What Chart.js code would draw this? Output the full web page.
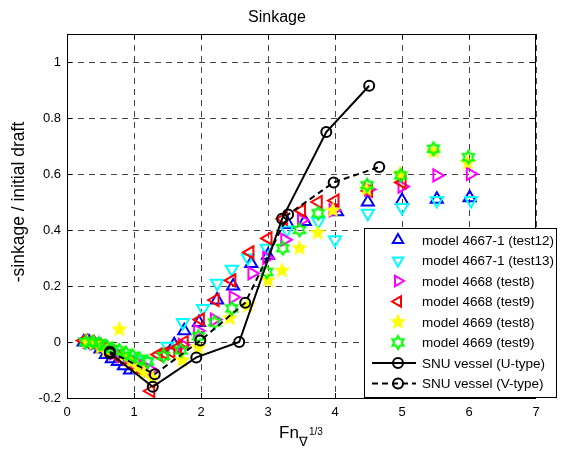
<!DOCTYPE html>
<html><head><meta charset="utf-8">
<script src="https://cdn.jsdelivr.net/npm/chart.js@4.4.0/dist/chart.umd.min.js"></script>
<style>html,body{margin:0;padding:0;background:#fff}</style>
</head><body>
<canvas id="c" width="565" height="450" style="display:block;width:565px;height:450px"></canvas>
<script>
// ---- data ----
const xTicks = [0, 1, 2, 3, 4, 5, 6, 7];
const yTicks = [-0.2, 0, 0.2, 0.4, 0.6, 0.8, 1];
const seriesNames = ['model 4667-1 (test12)', 'model 4667-1 (test13)', 'model 4668 (test8)', 'model 4668 (test9)', 'model 4669 (test8)', 'model 4669 (test9)', 'SNU vessel (U-type)', 'SNU vessel (V-type)'];

const m4667_test12 = [[0.25,0.0],[0.33,0.0],[0.42,-0.01],[0.5,-0.025],[0.58,-0.045],[0.67,-0.06],[0.76,-0.07],[0.85,-0.085],[0.94,-0.1],[1.05,-0.095],[1.6,-0.01],[1.75,0.04],[1.97,0.07],[2.24,0.15],[2.48,0.2],[2.75,0.28],[3.0,0.31],[3.3,0.42],[3.55,0.43],[4.03,0.465],[4.49,0.5],[5.0,0.505],[5.52,0.51],[6.01,0.515]];
const m4667_test13 = [[0.27,0.0],[0.36,0.0],[0.45,-0.005],[0.55,-0.02],[0.64,-0.03],[0.74,-0.04],[0.84,-0.05],[0.95,-0.06],[1.07,-0.065],[1.2,-0.07],[1.5,-0.015],[1.73,0.07],[2.03,0.12],[2.24,0.21],[2.46,0.26],[2.7,0.3],[2.98,0.335],[3.28,0.4],[3.75,0.43],[4.0,0.365],[4.49,0.46],[5.0,0.48],[5.52,0.505],[6.03,0.505]];
const m4668_test8 = [[0.3,0.0],[0.4,-0.005],[0.5,-0.01],[0.6,-0.025],[0.7,-0.04],[0.8,-0.05],[0.9,-0.06],[1.0,-0.07],[1.1,-0.08],[1.25,-0.1],[1.72,-0.01],[1.95,0.04],[2.2,0.08],[2.48,0.16],[2.76,0.245],[2.98,0.3],[3.25,0.365],[3.5,0.435],[3.97,0.47],[4.5,0.545],[5.0,0.555],[5.52,0.595],[6.02,0.6]];
const m4668_test9 = [[0.25,0.005],[0.35,0.0],[0.45,-0.01],[0.55,-0.02],[0.65,-0.035],[0.75,-0.05],[0.85,-0.065],[0.95,-0.08],[1.1,-0.1],[1.25,-0.175],[1.36,-0.045],[1.45,-0.04],[1.55,-0.035],[1.65,-0.02],[1.75,0.0],[1.99,0.08],[2.21,0.15],[2.46,0.22],[2.73,0.32],[3.0,0.37],[3.23,0.44],[3.5,0.47],[3.75,0.5],[4.0,0.505],[4.5,0.54],[5.0,0.57]];
const m4669_test8 = [[0.3,0.0],[0.4,-0.005],[0.5,-0.02],[0.6,-0.03],[0.78,0.045],[0.85,-0.05],[0.95,-0.07],[1.05,-0.09],[1.15,-0.11],[1.28,-0.13],[1.72,-0.065],[1.96,-0.02],[2.43,0.085],[2.7,0.13],[3.0,0.22],[3.21,0.255],[3.47,0.335],[3.74,0.39],[3.97,0.47],[4.47,0.545],[4.97,0.6],[5.47,0.68],[5.98,0.64]];
const m4669_test9 = [[0.28,0.0],[0.38,0.0],[0.48,-0.005],[0.58,-0.015],[0.68,-0.025],[0.78,-0.03],[0.88,-0.04],[0.98,-0.05],[1.08,-0.06],[1.2,-0.07],[1.44,-0.05],[1.7,-0.03],[1.96,0.02],[2.2,0.07],[2.46,0.12],[2.98,0.25],[3.22,0.335],[3.47,0.4],[3.75,0.46],[4.48,0.56],[4.98,0.595],[5.47,0.69],[5.99,0.66]];
const snuU = [[0.64,-0.04],[1.28,-0.16],[1.93,-0.055],[2.57,0.0],[3.21,0.44],[3.87,0.75],[4.51,0.915]];
const snuV = [[0.64,-0.035],[1.31,-0.115],[1.99,0.005],[2.66,0.14],[3.30,0.455],[3.98,0.57],[4.66,0.625]];

// ---- marker images ----
function starCanvas(n, R, r, fill, stroke, lw) {
  const s = 18, c = document.createElement('canvas'); c.width = s; c.height = s;
  const g = c.getContext('2d'); g.beginPath();
  for (let i = 0; i < 2 * n; i++) {
    const rad = (i % 2 === 0 ? R : r), a = -Math.PI / 2 + i * Math.PI / n;
    const px = s / 2 + rad * Math.cos(a), py = s / 2 + rad * Math.sin(a);
    if (i === 0) g.moveTo(px, py); else g.lineTo(px, py);
  }
  g.closePath();
  if (fill) { g.fillStyle = fill; g.fill(); }
  g.lineJoin = 'miter'; g.lineWidth = lw; g.strokeStyle = stroke; g.stroke();
  return c;
}
const pentagram = starCanvas(5, 7, 3.0, '#ffff00', '#ffff00', 1.2);
const hexagram = starCanvas(6, 6.5, 3.7, null, '#00ff00', 2);

const pts = a => a.map(p => ({x: p[0], y: p[1]}));
function mk(label, data, color, style, rot, order) {
  return {label, data: pts(data), borderColor: color, backgroundColor: 'rgba(0,0,0,0)',
    pointStyle: style, rotation: rot, pointRadius: 7, pointBorderWidth: 2, showLine: false, order};
}
const datasets = [
  mk(seriesNames[0], m4667_test12, '#0000ff', 'triangle', 0, 8),
  mk(seriesNames[1], m4667_test13, '#00ffff', 'triangle', 180, 7),
  mk(seriesNames[2], m4668_test8, '#ff00ff', 'triangle', 90, 6),
  mk(seriesNames[3], m4668_test9, '#ff0000', 'triangle', 270, 5),
  mk(seriesNames[4], m4669_test8, '#ffff00', pentagram, 0, 4),
  mk(seriesNames[5], m4669_test9, '#00ff00', hexagram, 0, 3),
  {label: seriesNames[6], data: pts(snuU), borderColor: '#000', backgroundColor: 'rgba(0,0,0,0)', showLine: true,
   borderWidth: 2, pointStyle: 'circle', pointRadius: 5, pointBorderWidth: 2, order: 1},
  {label: seriesNames[7], data: pts(snuV), borderColor: '#000', backgroundColor: 'rgba(0,0,0,0)', showLine: true,
   borderWidth: 2, borderDash: [6, 4], pointStyle: 'circle', pointRadius: 5, pointBorderWidth: 2, order: 2}
];

const FONT = '"Liberation Sans", Arial, Helvetica, sans-serif';

const deco = {
  id: 'deco',
  afterDraw(chart) {
    const ctx = chart.ctx, a = chart.chartArea, sx = chart.scales.x, sy = chart.scales.y;
    ctx.save();
    // frame
    ctx.strokeStyle = '#000'; ctx.lineWidth = 1; ctx.setLineDash([]);
    ctx.strokeRect(a.left + 0.5, a.top + 0.5, a.right - a.left - 1, a.bottom - a.top);
    // inward ticks
    ctx.beginPath();
    xTicks.forEach(v => { const x = Math.round(sx.getPixelForValue(v)) + 0.5;
      ctx.moveTo(x, a.bottom); ctx.lineTo(x, a.bottom - 5); ctx.moveTo(x, a.top); ctx.lineTo(x, a.top + 5); });
    yTicks.forEach(v => { const y = Math.round(sy.getPixelForValue(v)) + 0.5;
      ctx.moveTo(a.left, y); ctx.lineTo(a.left + 5, y); ctx.moveTo(a.right, y); ctx.lineTo(a.right - 5, y); });
    ctx.stroke();
    // title
    ctx.fillStyle = '#000'; ctx.textAlign = 'center'; ctx.textBaseline = 'alphabetic';
    ctx.font = '16px ' + FONT; ctx.fillText('Sinkage', 277, 22);
    // x label
    ctx.textAlign = 'left';
    ctx.font = '17px ' + FONT; ctx.fillText('Fn', 279, 438);
    ctx.font = '13px ' + FONT; ctx.fillText('\u2207', 299, 446);
    ctx.font = '10px ' + FONT; ctx.fillText('1/3', 309, 435);
    // y label
    ctx.save(); ctx.translate(24, 202); ctx.rotate(-Math.PI / 2);
    ctx.textAlign = 'center'; ctx.font = '17.5px ' + FONT; ctx.fillText('-sinkage / initial draft', 0, 0);
    ctx.restore();
    // legend
    const L = 364.5, T = 228.5, W = 192, H = 169;
    ctx.fillStyle = '#fff'; ctx.fillRect(L, T, W, H);
    ctx.strokeStyle = '#000'; ctx.lineWidth = 1; ctx.strokeRect(L, T, W, H);
    ctx.font = '13.5px ' + FONT; ctx.textBaseline = 'middle'; ctx.textAlign = 'left';
    chart.data.datasets.forEach((ds, i) => {
      const y = 240 + i * 20.5, mx = 398;
      if (ds.showLine) {
        ctx.save(); ctx.strokeStyle = '#000'; ctx.lineWidth = 2; ctx.setLineDash(ds.borderDash || []);
        ctx.beginPath(); ctx.moveTo(372, y); ctx.lineTo(416, y); ctx.stroke(); ctx.restore();
      }
      ctx.save(); ctx.strokeStyle = ds.borderColor; ctx.fillStyle = 'rgba(0,0,0,0)'; ctx.lineWidth = ds.pointBorderWidth;
      ctx.setLineDash([]);
      Chart.helpers.drawPoint(ctx, {pointStyle: ds.pointStyle, rotation: ds.rotation || 0,
        radius: ds.showLine ? ds.pointRadius : ds.pointRadius - 1, borderWidth: ds.pointBorderWidth}, mx, y);
      ctx.restore();
      ctx.fillStyle = '#000'; ctx.fillText(ds.label, 422, y + 1);
    });
    ctx.restore();
  }
};

new Chart(document.getElementById('c'), {
  type: 'scatter',
  data: {datasets},
  options: {
    responsive: false, animation: false, devicePixelRatio: 1,
    layout: {padding: {left: 0, right: 29, top: 34, bottom: 0}},
    plugins: {legend: {display: false}, title: {display: false}, tooltip: {enabled: false}},
    scales: {
      x: {type: 'linear', min: 0, max: 7,
        afterBuildTicks: s => { s.ticks = xTicks.map(v => ({value: v})); },
        afterFit: s => { s.height = 52; },
        ticks: {color: '#000', padding: 7, font: {size: 13, family: FONT}, callback: v => String(v)},
        grid: {color: '#444', lineWidth: 1, drawTicks: false},
        border: {display: false, dash: [6, 5]}},
      y: {type: 'linear', min: -0.2, max: 1.1,
        afterBuildTicks: s => { s.ticks = yTicks.map(v => ({value: v})); },
        afterFit: s => { s.width = 67; },
        ticks: {color: '#000', padding: 6, font: {size: 13, family: FONT}, callback: v => String(Math.round(v * 10) / 10)},
        grid: {color: '#444', lineWidth: 1, drawTicks: false},
        border: {display: false, dash: [6, 5]}}
    }
  },
  plugins: [deco]
});
</script>
</body></html>
